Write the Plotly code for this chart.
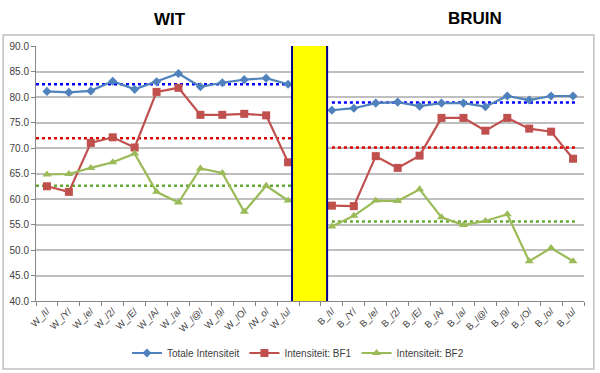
import plotly.graph_objects as go

# ---------------- data ----------------
labels_w = ["W_/I/", "W_/Y/", "W_/e/", "W_/2/", "W_/E/", "W_/A/", "W_/a/", "W_/@/", "W_/9/", "W_/O/", "/W_o/", "W_/u/"]
labels_b = ["B_/I/", "B_/Y/", "B_/e/", "B_/2/", "B_/E/", "B_/A/", "B_/a/", "B_/@/", "B_/9/", "B_/O/", "B_/o/", "B_/u/"]
gap_label = " "

totale_w = [81.1, 80.9, 81.2, 83.1, 81.5, 83.0, 84.6, 82.0, 82.8, 83.4, 83.7, 82.5]
bf1_w = [62.5, 61.4, 71.0, 72.1, 70.1, 81.0, 81.8, 76.5, 76.5, 76.7, 76.4, 67.2]
bf2_w = [64.8, 64.9, 66.1, 67.2, 68.9, 61.4, 59.3, 66.0, 65.1, 57.5, 62.6, 59.7]

totale_b = [77.4, 77.8, 78.8, 79.0, 78.2, 78.8, 78.8, 78.1, 80.2, 79.4, 80.2, 80.2]
bf1_b = [58.7, 58.6, 68.4, 66.1, 68.5, 75.9, 75.9, 73.4, 75.9, 73.8, 73.2, 67.9]
bf2_b = [54.6, 56.7, 59.7, 59.6, 61.9, 56.4, 54.9, 55.7, 57.0, 47.8, 50.4, 47.8]

avg_w = [82.5, 71.9, 62.6]   # Totale, BF1, BF2 reference lines (WIT)
avg_b = [78.9, 70.1, 55.6]   # Totale, BF1, BF2 reference lines (BRUIN)

series_names = ["Totale Intensiteit", "Intensiteit: BF1", "Intensiteit: BF2"]
group_titles = ["WIT", "BRUIN"]

# ---------------- styling ----------------
FONT = "Arial, Liberation Sans, sans-serif"
series_colors = ["#4F81BD", "#C0504D", "#9BBB59"]
avg_colors = ["#0000FF", "#E00000", "#66A832"]
symbols = ["diamond", "square", "triangle-up"]
msizes = [7, 8, 8]

categories = labels_w + [gap_label] + labels_b
n_w = len(labels_w)
gap_idx = n_w
b_start = n_w + 1

fig = go.Figure()

for name, yw, yb, col, sym, ms in zip(series_names, [totale_w, bf1_w, bf2_w],
                                      [totale_b, bf1_b, bf2_b], series_colors, symbols, msizes):
    fig.add_trace(go.Scatter(
        x=categories, y=list(yw) + [None] + list(yb), name=name,
        mode="lines+markers", connectgaps=False,
        line=dict(color=col, width=2.2),
        marker=dict(symbol=sym, size=ms, color=col),
    ))

shapes = []
# average (dotted) reference lines
for v, col in zip(avg_w, avg_colors):
    shapes.append(dict(type="line", xref="x", yref="y", x0=-0.5, x1=gap_idx - 0.5,
                       y0=v, y1=v, line=dict(color=col, width=2.5, dash="dot"), layer="between"))
for v, col in zip(avg_b, avg_colors):
    shapes.append(dict(type="line", xref="x", yref="y", x0=b_start, x1=len(categories) - 1 + 0.1,
                       y0=v, y1=v, line=dict(color=col, width=2.5, dash="dot"), layer="between"))
# yellow separator
shapes.append(dict(type="rect", xref="x", yref="y", x0=gap_idx - 0.82, x1=gap_idx + 0.78,
                   y0=39.8, y1=90.3, fillcolor="#FFFF00",
                   line=dict(color="#00008B", width=2), layer="above"))
# outer chart frame
shapes.append(dict(type="rect", xref="paper", yref="paper", x0=-0.06, x1=1.018,
                   y0=-0.267, y1=1.043, line=dict(color="#BFBFBF", width=1.5),
                   fillcolor="rgba(0,0,0,0)", layer="below"))

annotations = [
    dict(text=f"<b>{group_titles[0]}</b>", xref="paper", yref="paper", x=0.2445, y=1.102,
         showarrow=False, font=dict(family=FONT, size=17, color="#000000"), xanchor="center", yanchor="middle"),
    dict(text=f"<b>{group_titles[1]}</b>", xref="paper", yref="paper", x=0.801, y=1.106,
         showarrow=False, font=dict(family=FONT, size=17, color="#000000"), xanchor="center", yanchor="middle"),
]

fig.update_layout(
    width=600, height=373,
    margin=dict(l=36, r=16, t=46, b=72, autoexpand=False),
    paper_bgcolor="white", plot_bgcolor="white",
    font=dict(family=FONT, size=9, color="#404040"),
    shapes=shapes, annotations=annotations,
    showlegend=True,
    legend=dict(orientation="h", x=0.478, xanchor="center", y=-0.204, yanchor="middle",
                font=dict(family=FONT, size=10, color="#404040"), bgcolor="rgba(0,0,0,0)",
                itemwidth=30, tracegroupgap=0),
    xaxis=dict(type="category", categoryorder="array", categoryarray=categories,
               range=[-0.5, len(categories) - 0.5], automargin=False,
               showgrid=False, showline=True, linecolor="#868686", linewidth=1,
               ticks="outside", tickson="boundaries", ticklen=4, tickcolor="#868686",
               tickangle=-45, tickfont=dict(family=FONT, size=9.5, color="#404040"),
               zeroline=False, fixedrange=True),
    yaxis=dict(range=[40, 90], dtick=5, tick0=40, tickformat=".1f", automargin=False,
               showgrid=True, gridcolor="#BFBFBF", gridwidth=1.5,
               showline=True, linecolor="#868686", linewidth=1,
               ticks="outside", ticklen=4, tickcolor="#868686",
               tickfont=dict(family=FONT, size=10, color="#404040"),
               zeroline=False, fixedrange=True),
)

fig.write_html("out.html", config={"displayModeBar": False},
               post_script="document.body.style.margin='0';document.body.style.overflow='hidden';")
